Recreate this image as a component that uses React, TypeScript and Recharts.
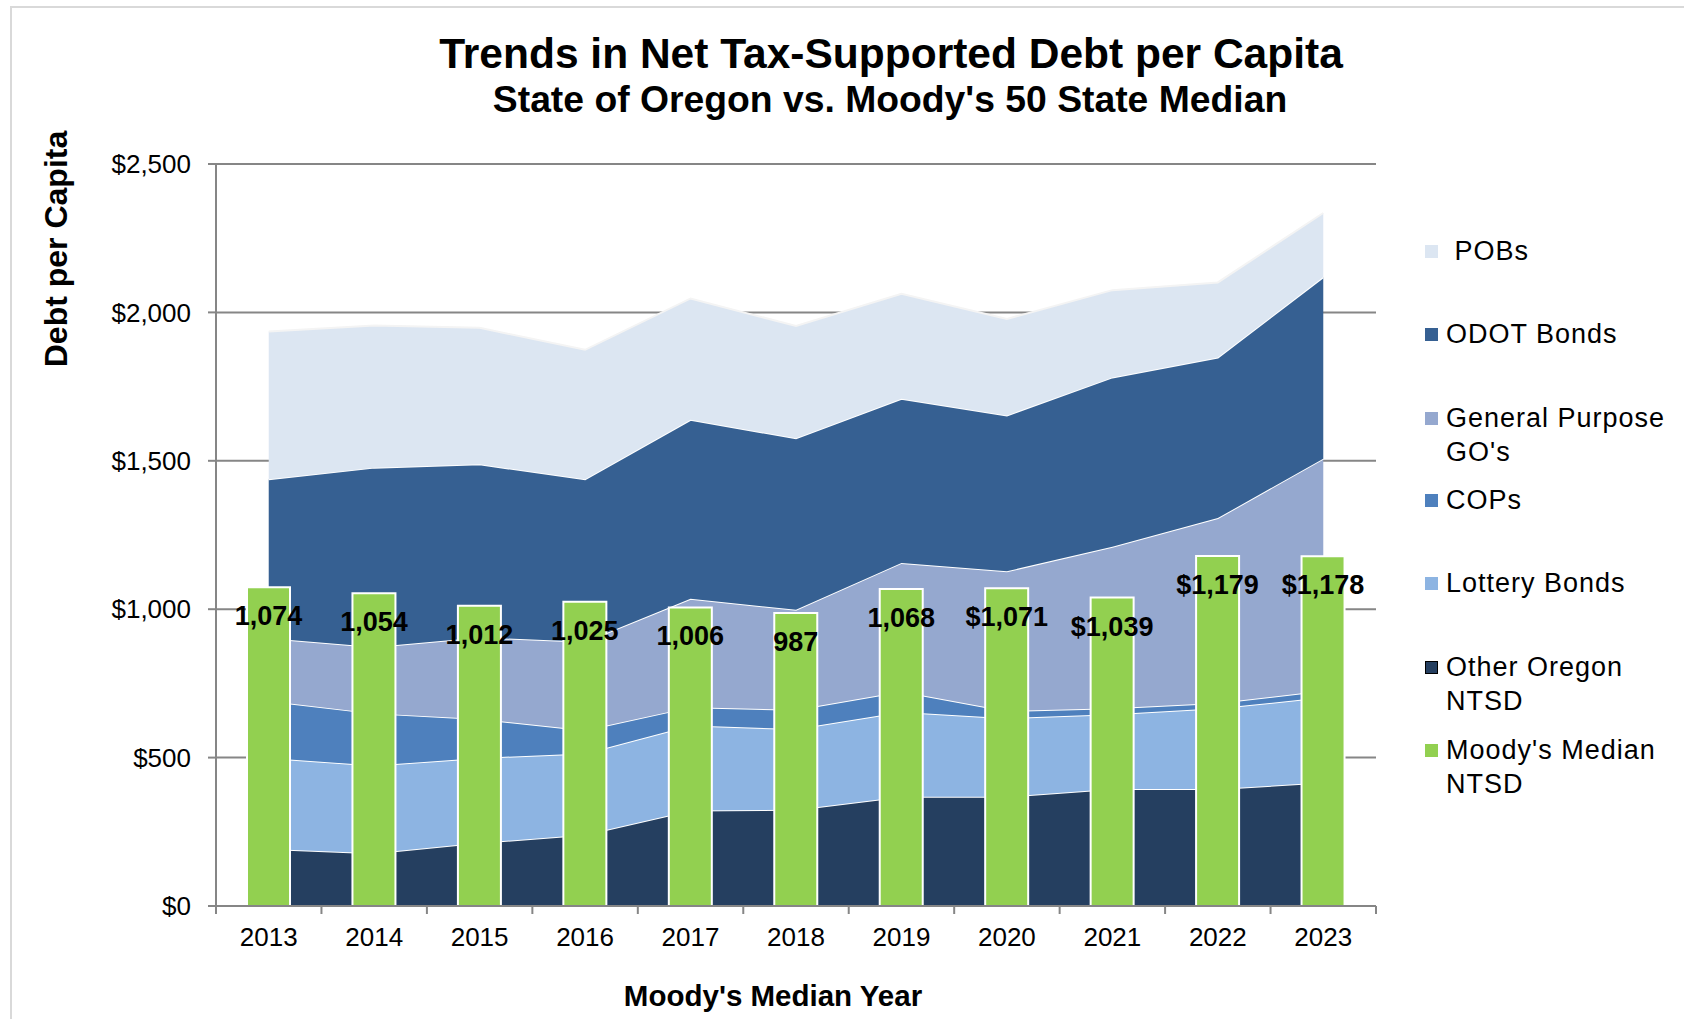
import React from 'react';
import { ComposedChart, Area, Bar, XAxis, YAxis, CartesianGrid, LabelList } from 'recharts';

const years = ['2013', '2014', '2015', '2016', '2017', '2018', '2019', '2020', '2021', '2022', '2023'];
const otherNTSD = [192, 178, 213, 240, 322, 324, 368, 368, 394, 394, 416];
const lotteryBonds = [307, 295, 286, 274, 286, 272, 286, 265, 252, 272, 287];
const cops = [192, 176, 131, 78, 62, 65, 69, 24, 20, 18, 22];
const goBonds = [211, 224, 275, 298, 365, 337, 433, 471, 544, 623, 782];
const odotBonds = [536, 604, 583, 548, 603, 578, 553, 525, 571, 541, 612];
const pobs = [498, 479, 460, 436, 409, 378, 354, 325, 294, 253, 216];
const moodysMedian = [1074, 1054, 1012, 1025, 1006, 987, 1068, 1071, 1039, 1179, 1178];
const moodysLabels = ['1,074', '1,054', '1,012', '1,025', '1,006', '987', '1,068', '$1,071', '$1,039', '$1,179', '$1,178'];
const yTicks = [0, 500, 1000, 1500, 2000, 2500];

const FONT = '"Liberation Sans", Arial, sans-serif';
const W = 1684;
const H = 1019;
const PLOT_LEFT = 216;
const PLOT_RIGHT = 1376;
const PLOT_TOP = 164;
const PLOT_BOTTOM = 906;
const Y_AXIS_W = 100;
const X_AXIS_H = 60;
const BAND = (PLOT_RIGHT - PLOT_LEFT) / years.length;

const data = years.map((y, i) => ({
  year: y,
  other: otherNTSD[i],
  lottery: lotteryBonds[i],
  cops: cops[i],
  go: goBonds[i],
  odot: odotBonds[i],
  pobs: pobs[i],
  moodys: moodysMedian[i],
}));

const legendItems = [
  { label: ' POBs', color: '#dce6f2', y: 251, border: false },
  { label: 'ODOT Bonds', color: '#366092', y: 334, border: false },
  { label: "General Purpose\nGO's", color: '#95a8cf', y: 418, border: false },
  { label: 'COPs', color: '#4e80bd', y: 500, border: false },
  { label: 'Lottery Bonds', color: '#8db4e2', y: 583, border: false },
  { label: 'Other Oregon\nNTSD', color: '#253f60', y: 667, border: true },
  { label: "Moody's Median\nNTSD", color: '#92d050', y: 750, border: false },
];

const XTick = (props: any) => {
  const { x, y, payload, index } = props;
  const last = index === years.length - 1;
  return (
    <g>
      <line x1={x - BAND / 2} x2={x - BAND / 2} y1={y} y2={y + 8} stroke="#868686" strokeWidth={2} />
      {last && <line x1={x + BAND / 2} x2={x + BAND / 2} y1={y} y2={y + 8} stroke="#868686" strokeWidth={2} />}
      <text x={x} y={y + 40} textAnchor="middle" fontSize={26} fill="#000" fontFamily={FONT}>
        {payload.value}
      </text>
    </g>
  );
};

const BarLabel = (props: any) => {
  const { x, y, width, index } = props;
  return (
    <text
      x={x + width / 2}
      y={y + 38}
      textAnchor="middle"
      fontSize={27}
      fontWeight="bold"
      fill="#000"
      fontFamily={FONT}
    >
      {moodysLabels[index]}
    </text>
  );
};

export default function App() {
  return (
    <div style={{ position: 'absolute', left: 0, top: 0, width: W, height: H, background: '#fff', overflow: 'hidden', fontFamily: FONT }}>
      <div style={{ position: 'absolute', left: 10, top: 6, width: W, height: H, borderLeft: '2px solid #d9d9d9', borderTop: '2px solid #d9d9d9' }} />
      <ComposedChart
        width={W}
        height={H}
        data={data}
        margin={{ top: PLOT_TOP, right: W - PLOT_RIGHT, left: PLOT_LEFT - Y_AXIS_W, bottom: H - PLOT_BOTTOM - X_AXIS_H }}
        barCategoryGap={0}
      >
        <CartesianGrid horizontal vertical={false} stroke="#868686" strokeWidth={2} />
        <XAxis
          dataKey="year"
          height={X_AXIS_H}
          tickSize={0}
          tickMargin={0}
          tickLine={false}
          axisLine={{ stroke: '#868686', strokeWidth: 2 }}
          tick={<XTick />}
          interval={0}
        />
        <YAxis
          width={Y_AXIS_W}
          domain={[0, 2500]}
          ticks={yTicks}
          interval={0}
          tickSize={8}
          tickMargin={17}
          tickLine={{ stroke: '#868686', strokeWidth: 2 }}
          axisLine={{ stroke: '#868686', strokeWidth: 2 }}
          tick={{ fontSize: 26, fill: '#000', fontFamily: FONT }}
          tickFormatter={(v: number) => '$' + v.toLocaleString('en-US')}
        />
        <Area type="linear" dataKey="other" stackId="a" fill="#253f60" fillOpacity={1} stroke="#ffffff" strokeWidth={2} isAnimationActive={false} dot={false} activeDot={false} />
        <Area type="linear" dataKey="lottery" stackId="a" fill="#8db4e2" fillOpacity={1} stroke="#ffffff" strokeWidth={2} isAnimationActive={false} dot={false} activeDot={false} />
        <Area type="linear" dataKey="cops" stackId="a" fill="#4e80bd" fillOpacity={1} stroke="#ffffff" strokeWidth={2} isAnimationActive={false} dot={false} activeDot={false} />
        <Area type="linear" dataKey="go" stackId="a" fill="#95a8cf" fillOpacity={1} stroke="#ffffff" strokeWidth={2} isAnimationActive={false} dot={false} activeDot={false} />
        <Area type="linear" dataKey="odot" stackId="a" fill="#366092" fillOpacity={1} stroke="#ffffff" strokeWidth={2} isAnimationActive={false} dot={false} activeDot={false} />
        <Area type="linear" dataKey="pobs" stackId="a" fill="#dce6f2" fillOpacity={1} stroke="#f4f4f4" strokeWidth={2} isAnimationActive={false} dot={false} activeDot={false} />
        <Bar dataKey="moodys" fill="#92d050" stroke="#ffffff" strokeWidth={2} barSize={43} isAnimationActive={false}>
          <LabelList dataKey="moodys" content={<BarLabel />} />
        </Bar>
      </ComposedChart>

      <div style={{ position: 'absolute', left: 891, top: 54, transform: 'translate(-50%, -50%)', whiteSpace: 'nowrap', fontSize: 42.5, fontWeight: 'bold', color: '#000' }}>
        Trends in Net Tax-Supported Debt per Capita
      </div>
      <div style={{ position: 'absolute', left: 890, top: 99, transform: 'translate(-50%, -50%)', whiteSpace: 'nowrap', fontSize: 37.3, fontWeight: 'bold', color: '#000' }}>
        State of Oregon vs. Moody's 50 State Median
      </div>
      <div style={{ position: 'absolute', left: 56, top: 249, transform: 'translate(-50%, -50%) rotate(-90deg)', whiteSpace: 'nowrap', fontSize: 32, fontWeight: 'bold', color: '#000' }}>
        Debt per Capita
      </div>
      <div style={{ position: 'absolute', left: 773, top: 996, transform: 'translate(-50%, -50%)', whiteSpace: 'nowrap', fontSize: 29.5, fontWeight: 'bold', color: '#000' }}>
        Moody's Median Year
      </div>

      {legendItems.map((it) => (
        <div key={it.label}>
          <div
            style={{
              position: 'absolute',
              left: 1425,
              top: it.y - 6,
              width: it.border ? 11 : 13,
              height: it.border ? 11 : 13,
              background: it.color,
              border: it.border ? '1px solid #000' : 'none',
            }}
          />
          <div
            style={{
              position: 'absolute',
              left: 1446,
              top: it.y - 17,
              fontSize: 27,
              lineHeight: '34px',
              letterSpacing: 1,
              color: '#000',
              whiteSpace: 'pre',
            }}
          >
            {it.label}
          </div>
        </div>
      ))}
    </div>
  );
}
